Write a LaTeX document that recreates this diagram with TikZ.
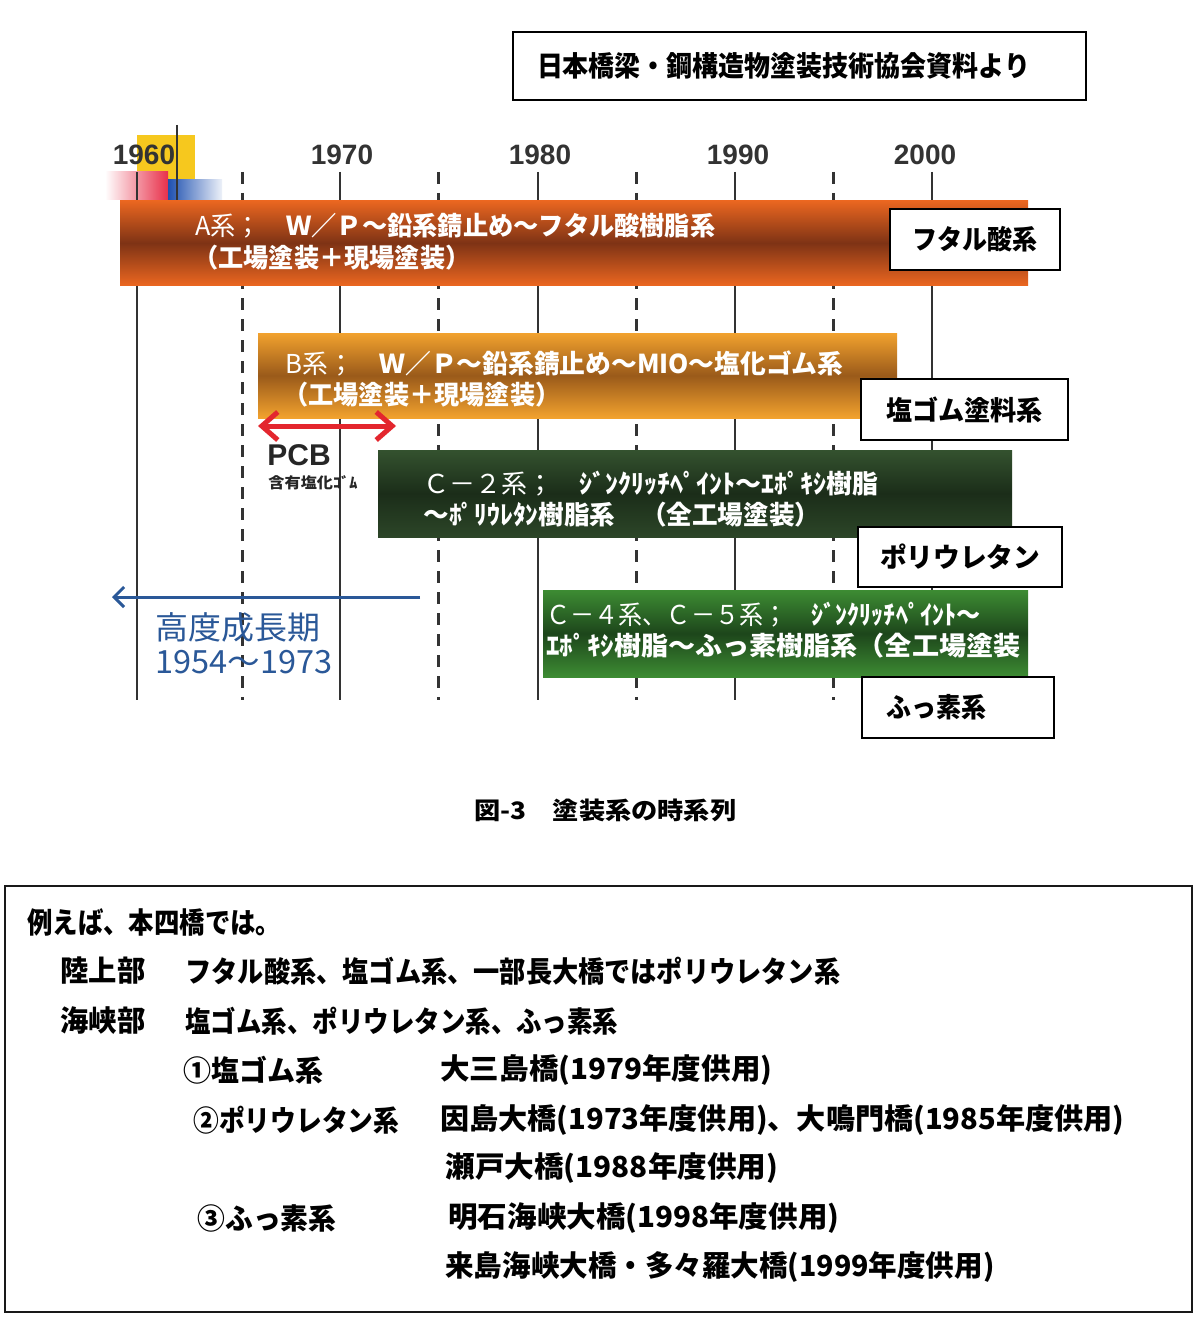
\documentclass[tikz,border=0pt]{standalone}
\usepackage{fontspec}
\usepackage{graphicx}
\setmainfont{Noto Sans CJK JP}
\newfontfamily\latb{Liberation Sans}
\usetikzlibrary{arrows.meta}
\definecolor{gridc}{HTML}{333333}
\definecolor{barAo}{HTML}{EA6620}
\definecolor{barAd}{HTML}{7E3315}
\definecolor{barBo}{HTML}{F2A22E}
\definecolor{barBd}{HTML}{9A5A1A}
\definecolor{barCo}{HTML}{34522F}
\definecolor{barCd}{HTML}{1B2D19}
\definecolor{barDo}{HTML}{3D8C33}
\definecolor{barDd}{HTML}{1D461B}
\definecolor{logoY}{HTML}{F6C81E}
\definecolor{logoR}{HTML}{E8304A}
\definecolor{logoB}{HTML}{1E50B0}
\definecolor{eraBlue}{HTML}{2A5898}
\definecolor{pcbRed}{HTML}{E3262E}
\newcommand{\fitw}[2]{\resizebox{#1pt}{\height}{#2}}
\tikzset{
  vsolid/.style={draw=gridc, line width=1.25pt},
  vdash/.style={draw=gridc, line width=1.5pt, dash pattern=on 6pt off 4.5pt},
  lblbox/.style={draw=black, line width=1pt, fill=white, inner sep=0pt,
    font=\fontsize{13.5pt}{13.5pt}\selectfont\bfseries},
  barbox/.style={draw=none, inner sep=0pt},
  bartxt/.style={text=white, anchor=west, inner sep=0pt,
    font=\fontsize{13pt}{13pt}\selectfont},
  yeartxt/.style={text=gridc, inner sep=0pt, font=\fontsize{14pt}{14pt}\selectfont\latb\bfseries},
  boxtxt/.style={anchor=west, inner sep=0pt, font=\fontsize{14.5pt}{14.5pt}\selectfont\bfseries},
  eratxt/.style={anchor=west, inner sep=0pt, text=eraBlue, font=\fontsize{16pt}{16pt}\selectfont},
}
\begin{document}
\begin{tikzpicture}[x=0.5pt, y=-0.5pt]
\useasboundingbox (0,0) rectangle (1200,1332);
\fill[white] (0,0) rectangle (1200,1332);

% source box
\node[draw=black, line width=1pt, fill=white, inner sep=0pt,
  minimum width=286.5pt, minimum height=34pt,
  font=\fontsize{14pt}{14pt}\selectfont\bfseries] (src) at (799.5,66)
  {\fitw{246.5}{日本橋梁・鋼構造物塗装技術協会資料より}\rule{16pt}{0pt}};

% logo
\fill[logoY] (137,135) rectangle (195,185);
\shade[left color=white, right color=logoR] (105,172) rectangle (168,200);
\shade[left color=logoB, right color=logoB!8] (168,180) rectangle (222,200);
\draw[gridc, line width=1.1pt] (177,125) -- (177,200);

% grid lines
\foreach \xx in {137,340,538,735,932} \draw[vsolid] (\xx,172) -- (\xx,700);
\foreach \xx in {242,438,636,833} \draw[vdash] (\xx,172) -- (\xx,700);

% years
\node[yeartxt] (y1960) at (144,155) {1960};
\node[yeartxt] (y1970) at (342,155) {1970};
\node[yeartxt] (y1980) at (540,155) {1980};
\node[yeartxt] (y1990) at (738,155) {1990};
\node[yeartxt] (y2000) at (925,155) {2000};

% bars
\node[barbox, minimum width=454pt, minimum height=42pt,
  top color=barAo, bottom color=barAo, middle color=barAd] (barA) at (574,243) {};
\node[barbox, minimum width=319.5pt, minimum height=42.5pt,
  top color=barBo, bottom color=barBo, middle color=barBd] (barB) at (577.5,375.5) {};
\node[barbox, minimum width=317pt, minimum height=43.5pt,
  top color=barCo, bottom color=barCo!85!black, middle color=barCd] (barC) at (695,493.5) {};
\node[barbox, minimum width=242.5pt, minimum height=43.5pt,
  top color=barDo, bottom color=barDo, middle color=barDd] (barD) at (785.5,633.5) {};

% bar texts
\node[bartxt] (tA1) at (195,226) {\fitw{260}{A系；　{\bfseries Ｗ／Ｐ～鉛系錆止め～フタル酸樹脂系}}};
\node[bartxt] (tA2) at (193,258) {\fitw{138.5}{\bfseries （工場塗装＋現場塗装）}};
\node[bartxt] (tB1) at (285,363) {\fitw{279}{B系；　{\bfseries Ｗ／Ｐ～鉛系錆止め～MIO～塩化ゴム系}}};
\node[bartxt] (tB2) at (283,395) {\fitw{138.5}{\bfseries （工場塗装＋現場塗装）}};
\node[bartxt] (tC1) at (423,484) {\fitw{227.5}{Ｃ－２系；　{\bfseries ｼﾞﾝｸﾘｯﾁﾍﾟｲﾝﾄ～ｴﾎﾟｷｼ樹脂}}};
\node[bartxt] (tC2) at (423,515) {\fitw{198.5}{\bfseries ～ﾎﾟﾘｳﾚﾀﾝ樹脂系　（全工場塗装）}};
\node[bartxt] (tD1) at (546,615) {\fitw{217}{Ｃ－４系、Ｃ－５系；　{\bfseries ｼﾞﾝｸﾘｯﾁﾍﾟｲﾝﾄ～}}};
\node[bartxt] (tD2) at (546,646) {\fitw{237}{\bfseries ｴﾎﾟｷｼ樹脂～ふっ素樹脂系（全工場塗装}};

% label boxes
\node[lblbox, minimum width=85pt, minimum height=30.5pt] (lA) at (975,239.5) {\fitw{62.5}{フタル酸系}};
\node[lblbox, minimum width=103.5pt, minimum height=30.5pt] (lB) at (964.5,409.5) {\fitw{78.5}{塩ゴム塗料系}};
\node[lblbox, minimum width=102pt, minimum height=30pt] (lC) at (960,557) {\fitw{80}{ポリウレタン}};
\node[lblbox, minimum width=96pt, minimum height=30.5pt] (lD) at (958,707.5) {\fitw{50}{ふっ素系}\rule{22pt}{0pt}};

% PCB arrow
\coordinate (pcbL) at (258,426);
\coordinate (pcbR) at (396,426);
\draw[pcbRed, line width=2.5pt,
  {Straight Barb[length=8pt,width=14pt]}-{Straight Barb[length=8pt,width=14pt]}] (pcbL) -- (pcbR);
\node[anchor=west, inner sep=0pt, text=black!85, font=\fontsize{15pt}{15pt}\selectfont\latb\bfseries] (pcb) at (267,455) {PCB};
\node[anchor=west, inner sep=0pt, text=black!85, font=\fontsize{7.5pt}{7.5pt}\selectfont\bfseries] (pcbsub) at (268,483) {\fitw{44.5}{含有塩化ｺﾞﾑ}};

% era arrow
\coordinate (eraR) at (420,597);
\coordinate (eraL) at (112,597);
\draw[eraBlue, line width=1.5pt, -{Straight Barb[length=5pt,width=10pt]}] (eraR) -- (eraL);
\node[eratxt] (era1) at (155,627) {\fitw{82.5}{高度成長期}};
\node[eratxt] (era2) at (155,662) {\fitw{88.5}{1954～1973}};

% caption
\node[anchor=west, inner sep=0pt, font=\fontsize{12pt}{12pt}\selectfont\bfseries] (cap) at (474,810) {\fitw{131}{図-3　塗装系の時系列}};

% bottom box
\node[draw=black!90, line width=1.3pt, inner sep=0pt, minimum width=593.5pt, minimum height=213pt] (ex) at (598.5,1099) {};
\node[boxtxt] (b0) at (27,922) {\fitw{127}{例えば、本四橋では。}};
\node[boxtxt] (b1a) at (60,971) {\fitw{42.5}{陸上部}};
\node[boxtxt] (b1b) at (185,971) {\fitw{327.5}{フタル酸系、塩ゴム系、一部長大橋ではポリウレタン系}};
\node[boxtxt] (b2a) at (60,1021) {\fitw{42.5}{海峡部}};
\node[boxtxt] (b2b) at (185,1021) {\fitw{216.5}{塩ゴム系、ポリウレタン系、ふっ素系}};
\node[boxtxt] (b3a) at (183,1070) {\fitw{70}{①塩ゴム系}};
\node[boxtxt] (b3b) at (440,1070) {\fitw{166}{大三島橋(1979年度供用)}};
\node[boxtxt] (b4a) at (193,1120) {\fitw{103}{②ポリウレタン系}};
\node[boxtxt] (b4b) at (440,1120) {\fitw{342}{因島大橋(1973年度供用)、大鳴門橋(1985年度供用)}};
\node[boxtxt] (b5b) at (445,1168) {\fitw{166.5}{瀬戸大橋(1988年度供用)}};
\node[boxtxt] (b6a) at (197,1218) {\fitw{69.5}{③ふっ素系}};
\node[boxtxt] (b6b) at (448,1218) {\fitw{195.5}{明石海峡大橋(1998年度供用)}};
\node[boxtxt] (b7b) at (445,1267) {\fitw{274.5}{来島海峡大橋・多々羅大橋(1999年度供用)}};
\end{tikzpicture}
\end{document}
